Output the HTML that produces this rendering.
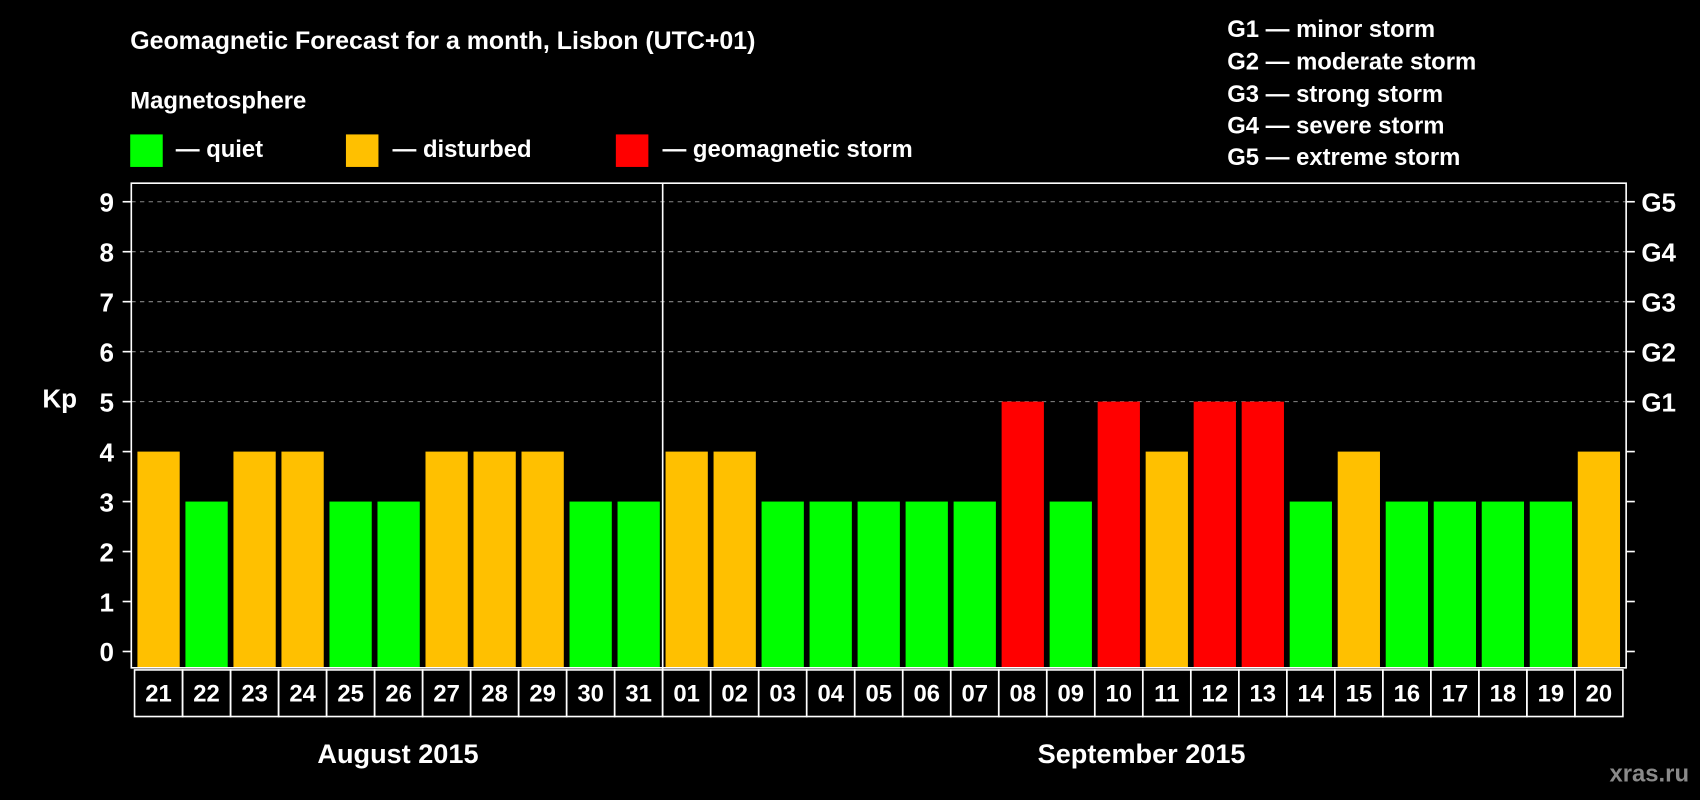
<!DOCTYPE html>
<html><head><meta charset="utf-8"><style>
html,body{margin:0;padding:0;background:#000;width:1700px;height:800px;overflow:hidden}
svg{display:block}
text{font-family:"Liberation Sans",Arial,sans-serif;font-weight:bold;fill:#fff}
</style></head><body>
<svg id="chart" width="1700" height="800" viewBox="0 0 1568 738" xmlns="http://www.w3.org/2000/svg">
<rect x="0" y="0" width="1568" height="738" fill="#000"/>
<text x="120" y="45" font-size="23">Geomagnetic Forecast for a month, Lisbon (UTC+01)</text>
<text x="120" y="100" font-size="22">Magnetosphere</text>
<g><rect x="120" y="124" width="30" height="30" fill="#00ff00"/><text x="162" y="145" font-size="22">— quiet</text></g>
<g><rect x="319" y="124" width="30" height="30" fill="#ffc000"/><text x="362" y="145" font-size="22">— disturbed</text></g>
<g><rect x="568" y="124" width="30" height="30" fill="#ff0000"/><text x="611" y="145" font-size="22">— geomagnetic storm</text></g>
<g font-size="22">
<text x="1132" y="34">G1 — minor storm</text>
<text x="1132" y="64">G2 — moderate storm</text>
<text x="1132" y="94">G3 — strong storm</text>
<text x="1132" y="123">G4 — severe storm</text>
<text x="1132" y="152">G5 — extreme storm</text>
</g>
<text x="39" y="376" font-size="24">Kp</text>
<g id="grid"></g><g id="bars"></g><g id="axes"></g>
<text x="367" y="704" font-size="25" text-anchor="middle">August 2015</text>
<text x="1053" y="704" font-size="25" text-anchor="middle">September 2015</text>
<text x="1558" y="721" font-size="22" text-anchor="end" fill="#888" style="fill:#8a8a8a">xras.ru</text>
</svg>
<script>
const days = ["21","22","23","24","25","26","27","28","29","30","31","01","02","03","04","05","06","07","08","09","10","11","12","13","14","15","16","17","18","19","20"];
const kp = [4,3,4,4,3,3,4,4,4,3,3,4,4,3,3,3,3,3,5,3,5,4,5,5,3,4,3,3,3,3,4];
const yTicks = [0,1,2,3,4,5,6,7,8,9];
const gLabels = ["G1","G2","G3","G4","G5"];
const gLevels = [5,6,7,8,9];
const NS="http://www.w3.org/2000/svg";
const L=121,R=1500,T=169,B=616,LB=661;
const y=v=>601-v*46.1;
const step=(R-L-6)/days.length; // ~44.3
const xc=i=>124+step*(i+0.5);
function mk(tag,attrs,parent){const e=document.createElementNS(NS,tag);for(const k in attrs)e.setAttribute(k,attrs[k]);parent.appendChild(e);return e;}
const grid=document.getElementById('grid'),bars=document.getElementById('bars'),axes=document.getElementById('axes');
yTicks.forEach(v=>{
  if(v>=5){const g=mk('line',{x1:L,x2:R,y1:y(v),y2:y(v),stroke:'#888','stroke-dasharray':'4,4','stroke-width':1},grid);
  
  }
  const t=mk('line',{x1:L-8,x2:L,y1:y(v),y2:y(v),stroke:'#fff','stroke-width':1.5},axes);
  
  
  const r=mk('line',{x1:R,x2:R+8,y1:y(v),y2:y(v),stroke:'#fff','stroke-width':1.5},axes);
  
  
  const lb=mk('text',{x:L-16,y:y(v)+9,'font-size':24,'text-anchor':'end'},axes);lb.textContent=v;
  
  
});
gLevels.forEach((v,i)=>{
  const t=mk('text',{x:R+14,y:y(v)+9,'font-size':24},axes);t.textContent=gLabels[i];
  
  
});
const col=v=>v>=5?'#ff0000':(v>=4?'#ffc000':'#00ff00');
kp.forEach((v,i)=>{
  const b=mk('rect',{x:xc(i)-19.5,y:y(v),width:39,height:B-y(v),fill:col(v)},bars);
  
  
  const bx=mk('rect',{x:xc(i)-step/2,y:B+2,width:step,height:LB-B-2,fill:'none',stroke:'#fff','stroke-width':1.5},axes);
  
  
  const t=mk('text',{x:xc(i),y:647,'font-size':22,'text-anchor':'middle'},axes);t.textContent=days[i];
  
  
});
const fr=mk('path',{d:`M${L} ${T}H${R}V${B}H${L}Z`,fill:'none',stroke:'#fff','stroke-width':1.5},axes);


const sepX=xc(11)-step/2;
const sp=mk('line',{x1:sepX,x2:sepX,y1:T,y2:LB,stroke:'#fff','stroke-width':1.5},axes);


</script>
</body></html>
